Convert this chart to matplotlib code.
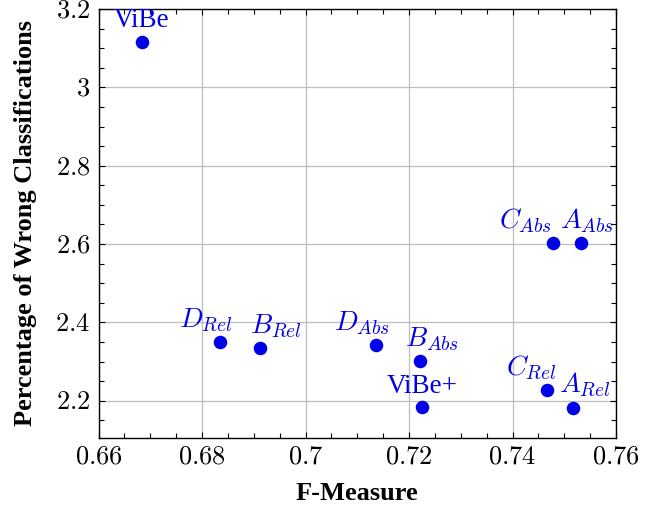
import matplotlib
matplotlib.use("Agg")
import matplotlib.pyplot as plt
from matplotlib.ticker import MultipleLocator

plt.rcParams['mathtext.fontset'] = 'cm'
plt.rcParams['font.family'] = ['Liberation Serif', 'DejaVu Serif']

# F-Measure vs Percentage of Wrong Classifications
labels = ['ViBe', r'$D_{Rel}$', r'$B_{Rel}$', r'$D_{Abs}$', r'$B_{Abs}$', 'ViBe+',
          r'$C_{Abs}$', r'$A_{Abs}$', r'$C_{Rel}$', r'$A_{Rel}$']
fmeasure = [0.6684, 0.6835, 0.6913, 0.7136, 0.7221, 0.7225, 0.7478, 0.7532, 0.7466, 0.7516]
pwc = [3.117, 2.349, 2.335, 2.342, 2.301, 2.183, 2.603, 2.603, 2.227, 2.182]
xticks = [0.66, 0.68, 0.70, 0.72, 0.74, 0.76]
xtick_labels = ['$0.66$', '$0.68$', '$0.7$', '$0.72$', '$0.74$', '$0.76$']
yticks = [2.2, 2.4, 2.6, 2.8, 3.0, 3.2]
ytick_labels = ['$2.2$', '$2.4$', '$2.6$', '$2.8$', '$3$', '$3.2$']

# horizontal shift of each label (points), as in the original layout
label_dx = [0, -10, 11, -10, 9, 0, -20, 4.5, -11, 9]

fig = plt.figure(figsize=(6.55, 5.08), dpi=100)
ax = fig.add_axes([0.1504, 0.1378, 0.7901, 0.8445])

blue = '#0000e6'
ax.scatter(fmeasure, pwc, s=95, color=blue, zorder=3, linewidths=0)
for lab, x, y, dx in zip(labels, fmeasure, pwc, label_dx):
    fs = 20 if lab.startswith('$') else 19.5
    ax.annotate(lab, (x, y), xytext=(dx, 6), textcoords='offset points',
                ha='center', va='bottom', color=blue, fontsize=fs)

ax.set_xlim(0.66, 0.76)
ax.set_ylim(2.105, 3.2)
ax.set_xticks(xticks)
ax.set_xticklabels(xtick_labels)
ax.set_yticks(yticks)
ax.set_yticklabels(ytick_labels)
ax.xaxis.set_minor_locator(MultipleLocator(0.005))
ax.yaxis.set_minor_locator(MultipleLocator(0.05))
ax.tick_params(which='both', direction='in', top=True, right=True, labelsize=19, width=0.8)
ax.tick_params(which='major', length=4.5, pad=6)
ax.tick_params(which='minor', length=3.5)
ax.grid(True, which='major', color='#bdbdbd', linewidth=0.9)
ax.set_axisbelow(True)
for sp in ax.spines.values():
    sp.set_linewidth(1.0)

ax.set_xlabel('F-Measure', fontsize=19, fontweight='bold', labelpad=10)
ax.set_ylabel('Percentage of Wrong Classifications', fontsize=19, fontweight='bold', labelpad=13)

fig.savefig('out.png', dpi=100)
